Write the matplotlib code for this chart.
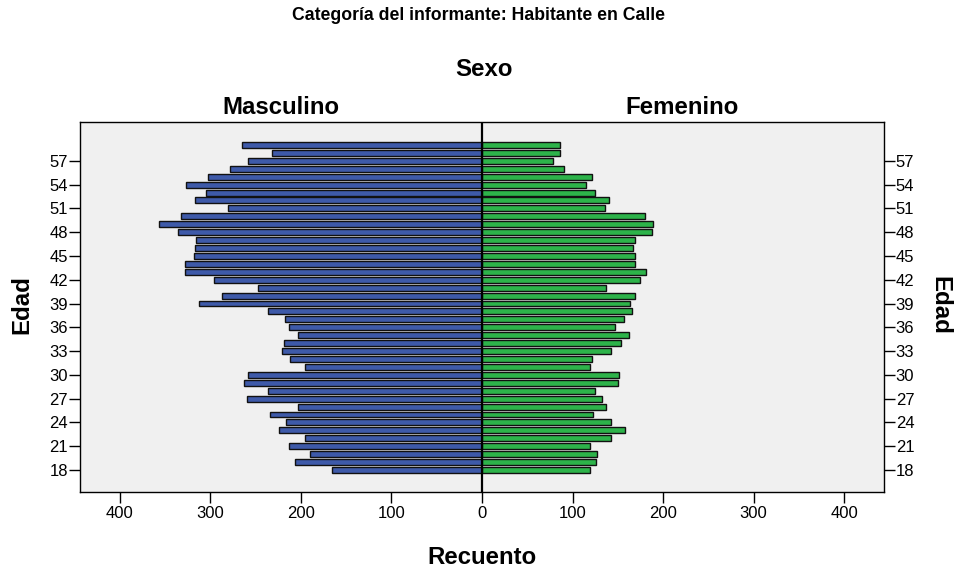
import matplotlib
matplotlib.use("Agg")
import matplotlib.pyplot as plt
import numpy as np

plt.rcParams['font.family'] = ['Liberation Sans', 'DejaVu Sans']

ages = list(range(18, 60))
# values listed from age 18 up to age 59
masculino = [166, 207, 190, 213, 195, 224, 216, 234, 203, 260, 236, 263, 258, 196,
             212, 221, 219, 203, 213, 218, 236, 313, 287, 247, 296, 328, 328, 318,
             317, 316, 336, 357, 332, 280, 317, 305, 327, 303, 278, 258, 232, 265]
femenino = [119, 126, 127, 119, 143, 158, 143, 123, 137, 133, 125, 150, 151, 119,
            122, 143, 154, 162, 147, 157, 166, 164, 169, 137, 175, 181, 169, 169,
            167, 169, 188, 189, 180, 136, 140, 125, 115, 122, 91, 78, 86, 86]
ytick_ages = [18, 21, 24, 27, 30, 33, 36, 39, 42, 45, 48, 51, 54, 57]
xtick_vals = [-400, -300, -200, -100, 0, 100, 200, 300, 400]

blue = '#3e5aa9'
green = '#2db34a'

fig = plt.figure(figsize=(9.57, 5.71), dpi=100)
ax = fig.add_axes([80/957, 1-492/571, (884-80)/957, (492-122)/571])
ax.set_facecolor('#f0f0f0')

ax.barh(ages, [-v for v in masculino], height=0.75, color=blue, edgecolor='#111111', linewidth=1.0)
ax.barh(ages, femenino, height=0.75, color=green, edgecolor='#111111', linewidth=1.0)
ax.axvline(0, color='black', linewidth=1.6)

ax.set_xlim(-444, 444)
ax.set_ylim(15.22, 61.9)
ax.set_xticks(xtick_vals)
ax.set_xticklabels([str(abs(v)) for v in xtick_vals], fontsize=12)
ax.set_yticks(ytick_ages)
ax.set_yticklabels([str(a) for a in ytick_ages], fontsize=12)
ax.tick_params(axis='y', which='both', left=True, right=True, labelleft=True, labelright=True,
               length=8, width=1, direction='out', pad=0.5)
ax.tick_params(axis='x', length=8, width=1, direction='out', pad=2)
for s in ax.spines.values():
    s.set_linewidth(1)
    s.set_color('black')

big = 17.3
fig.text(479/957, 1-16/571, 'Categoría del informante: Habitante en Calle', ha='center', va='center',
         fontsize=12.7, fontweight='bold')
fig.text(484/957, 1-69/571, 'Sexo', ha='center', va='center', fontsize=big, fontweight='bold')
fig.text(281/957, 1-108/571, 'Masculino', ha='center', va='center', fontsize=big, fontweight='bold')
fig.text(682/957, 1-108/571, 'Femenino', ha='center', va='center', fontsize=big, fontweight='bold')
fig.text(22/957, 1-305/571, 'Edad', ha='center', va='center', rotation=90, fontsize=big, fontweight='bold')
fig.text(940/957, 1-305/571, 'Edad', ha='center', va='center', rotation=270, fontsize=big, fontweight='bold')
fig.text(482/957, 1-557/571, 'Recuento', ha='center', va='center', fontsize=big, fontweight='bold')

fig.savefig('out.png', dpi=100)
